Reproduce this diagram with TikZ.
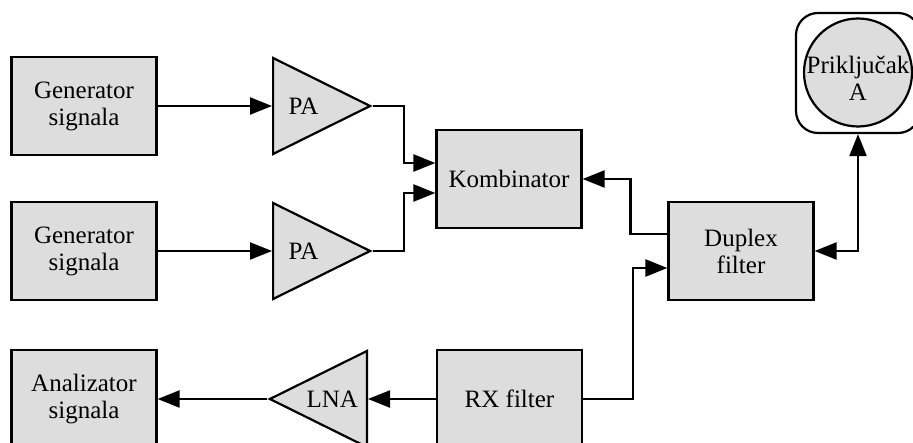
\documentclass[tikz,border=0pt]{standalone}
\usepackage{fontspec}
\setmainfont{Liberation Serif}
\usepackage{xcolor}
\usepackage{tikz}
\usetikzlibrary{positioning}
\usetikzlibrary{arrows.meta}
\usetikzlibrary{shapes.geometric}
\definecolor{blokgray}{RGB}{221,221,221}
\newcommand\blokfont{\fontsize{12.5}{13.5}\selectfont}

\begin{document}
\begin{tikzpicture}[x=0.5pt,y=-0.5pt,
  blok/.style={draw,fill=blokgray,line width=1.1pt,minimum width=72.5pt,minimum height=49pt,inner sep=0pt,align=center,font=\blokfont},
  pojac/.style={draw,fill=blokgray,line width=1.1pt,isosceles triangle,isosceles triangle stretches,minimum width=48pt,minimum height=48.5pt,inner sep=0pt,font=\blokfont},
  veza/.style={line width=1.1pt,-{Triangle[length=11pt,width=8.5pt]}},
  veza2/.style={line width=1.1pt,{Triangle[length=11pt,width=8.5pt]}-{Triangle[length=11pt,width=8.5pt]}}]
\useasboundingbox (0,0) rectangle (913,443);
\clip (0,0) rectangle (913,443);

%generatori i pojacala
\node[blok] (gen1) at (84,106) {Generator\\signala};
\node[blok] (gen2) at (84,251) {Generator\\signala};
\node[pojac,anchor=lower side] (pa1) at (272,106) {PA};
\node[pojac,anchor=lower side] (pa2) at (272,251) {PA};

%prijem
\node[blok] (ana) at (84,399) {Analizator\\signala};
\node[pojac,shape border rotate=180,anchor=lower side] (lna) at (368,399) {LNA};
\node[blok] (rx) at (509.5,399) {RX filter};

\node[blok] (komb) at (509,179) {Kombinator};
\node[blok] (dup) at (741,251) {Duplex\\filter};

%prikljucak
\node[draw,line width=1.1pt,rounded corners=11pt,minimum width=62pt,minimum height=60pt] (prik) at (858,73) {};
\node[circle,draw,fill=blokgray,line width=1.1pt,minimum size=54pt,inner sep=0pt] (prikA) at (858,72.5) {};
\node[align=center,font=\blokfont,inner sep=0pt] (prikTxt) at (858,78) {Priključak\\A};

\draw[veza] (gen1) -- (pa1.lower side);
\draw[veza] (gen2) -- (pa2.lower side);
\draw[veza] (pa1.apex) -- ++(31,0) |- ([yshift=8pt]komb.west);
\draw[veza] (pa2.apex) -- ++(31,0) |- ([yshift=-7pt]komb.west);

\draw[veza] ([yshift=8.5pt]dup.west) -- ++(-37,0) |- (komb.east);
\draw[veza] (rx.east) -- ++(50,0) |- ([yshift=-8.5pt]dup.west);
\draw[veza2] (dup.east) -| (prik.south);

\draw[veza] (rx.west) -- (lna.lower side);
\draw[veza] (lna.apex) -- (ana.east);

\end{tikzpicture}
\end{document}
